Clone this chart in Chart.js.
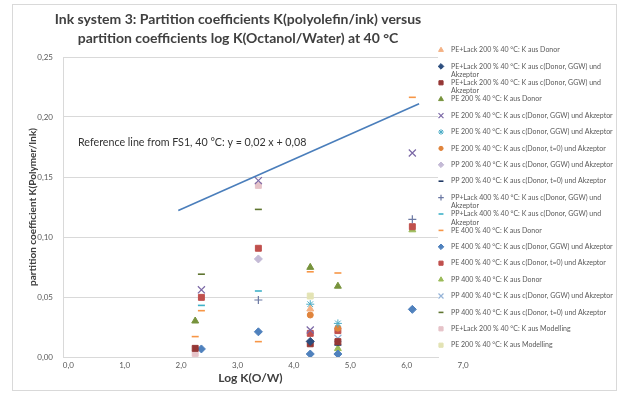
<!DOCTYPE html>
<html>
<head>
<meta charset="utf-8">
<script src="https://cdn.jsdelivr.net/npm/chart.js@4.4.1/dist/chart.umd.min.js"></script>
<style>
  html, body { margin: 0; padding: 0; background: #fff; }
  #wrap { position: relative; width: 624px; height: 396px; }
</style>
</head>
<body>
<div id="wrap"><canvas id="chart" width="624" height="396"></canvas></div>
<script>
// log K(O/W) of the substances (x positions)
const logKow = [2.25, 2.36, 3.37, 4.29, 4.78, 6.1];

// K(Polymer/Ink) per series, one value per substance, null = not measured
const peLack200Donor    = [null, null, null, 0.040, null, null];
const peLack200Ggw      = [null, null, null, 0.013, null, null];
const peLack200Ggw2     = [0.0072, null, null, 0.011, 0.0128, null];
const pe200Donor        = [0.030, null, null, 0.0747, 0.059, null];
const pe200Ggw          = [null, 0.056, 0.147, 0.0225, null, 0.170];
const pe200Ggw2         = [null, null, null, 0.044, 0.028, null];
const pe200T0           = [null, null, null, 0.035, 0.024, null];
const pp200Ggw          = [null, null, 0.0817, null, null, null];
const pp200T0           = [null, null, null, null, 0.010, null];
const ppLack400Ggw      = [null, null, 0.0475, null, null, 0.1147];
const ppLack400Ggw2     = [null, 0.043, 0.055, null, null, null];
const pe400Donor        = [0.017, 0.0386, 0.0128, 0.071, 0.070, 0.2164];
const pe400Ggw          = [null, 0.0067, 0.021, 0.0025, 0.0025, 0.0397];
const pe400T0           = [null, 0.0497, 0.0906, 0.0197, 0.022, 0.1086];
const pp400Donor        = [null, null, null, null, 0.007, 0.106];
const pp400Ggw          = [null, null, null, null, 0.0156, null];
const pp400T0           = [null, 0.069, 0.123, null, null, null];
const peLack200Model    = [0.003, null, 0.143, null, null, null];
const pe200Model        = [null, null, null, 0.0508, null, null];

// reference line FS1 (end points)
const refLineX = [1.95, 6.22];
const refLineY = [0.122, 0.211];

// tick labels
const xTicks = [0, 1, 2, 3, 4, 5, 6, 7];
const yTicks = [0, 0.05, 0.10, 0.15, 0.20, 0.25];

// marker look per point style
const MARKERS = {
    triangle: { radius: 4, border: 1 },
    rectRot:  { radius: 4, border: 1 },
    rect:     { radius: 4.2, border: 1 },
    crossRot: { radius: 5, border: 1.2 },
    cross:    { radius: 4, border: 1.2 },
    star:     { radius: 4, border: 1 },
    circle:   { radius: 3, border: 1 },
    line:     { radius: 3.5, border: 1.6 }
};

const SERIES = [
    { label: 'PE+Lack 200 % 40 °C: K aus Donor', values: peLack200Donor, style: 'triangle', color: '#f4b183' },
    { label: 'PE+Lack 200 % 40 °C: K aus c(Donor, GGW) und Akzeptor', values: peLack200Ggw, style: 'rectRot', color: '#2c4d7e' },
    { label: 'PE+Lack 200 % 40 °C: K aus c(Donor, GGW) und Akzeptor', values: peLack200Ggw2, style: 'rect', color: '#953735' },
    { label: 'PE 200 % 40 °C: K aus Donor', values: pe200Donor, style: 'triangle', color: '#77933c' },
    { label: 'PE 200 % 40 °C: K aus c(Donor, GGW) und Akzeptor', values: pe200Ggw, style: 'crossRot', color: '#7b68a6' },
    { label: 'PE 200 % 40 °C: K aus c(Donor, GGW) und Akzeptor', values: pe200Ggw2, style: 'star', color: '#4bacc6' },
    { label: 'PE 200 % 40 °C: K aus c(Donor, t=0) und Akzeptor', values: pe200T0, style: 'circle', color: '#e0843c' },
    { label: 'PP 200 % 40 °C: K aus c(Donor, GGW) und Akzeptor', values: pp200Ggw, style: 'rectRot', color: '#c4bad6' },
    { label: 'PP 200 % 40 °C: K aus c(Donor, t=0) und Akzeptor', values: pp200T0, style: 'line', color: '#1f3864' },
    { label: 'PP+Lack 400 % 40 °C: K aus c(Donor, GGW) und Akzeptor', values: ppLack400Ggw, style: 'cross', color: '#6b78a3' },
    { label: 'PP+Lack 400 % 40 °C: K aus c(Donor, GGW) und Akzeptor', values: ppLack400Ggw2, style: 'line', color: '#3fb2c8' },
    { label: 'PE 400 % 40 °C: K aus Donor', values: pe400Donor, style: 'line', color: '#f79646' },
    { label: 'PE 400 % 40 °C: K aus c(Donor, GGW) und Akzeptor', values: pe400Ggw, style: 'rectRot', color: '#4f81bd' },
    { label: 'PE 400 % 40 °C: K aus c(Donor, t=0) und Akzeptor', values: pe400T0, style: 'rect', color: '#c0504d' },
    { label: 'PP 400 % 40 °C: K aus Donor', values: pp400Donor, style: 'triangle', color: '#9bbb59' },
    { label: 'PP 400 % 40 °C: K aus c(Donor, GGW) und Akzeptor', values: pp400Ggw, style: 'crossRot', color: '#95b3d7' },
    { label: 'PP 400 % 40 °C: K aus c(Donor, t=0) und Akzeptor', values: pp400T0, style: 'line', color: '#5f7530' },
    { label: 'PE+Lack 200 % 40 °C: K aus Modelling', values: peLack200Model, style: 'rect', color: '#e6c3c8' },
    { label: 'PE 200 % 40 °C: K aus Modelling', values: pe200Model, style: 'rect', color: '#e3e3b4' }
];

const FONT = 'Lato, "Open Sans", sans-serif';
const commaFmt = (v, d) => v.toFixed(d).replace('.', ',');

const datasets = SERIES.map(s => {
    const m = MARKERS[s.style];
    return {
        label: s.label,
        data: logKow.map((x, i) => s.values[i] == null ? null : { x, y: s.values[i] }).filter(Boolean),
        pointStyle: s.style,
        pointRadius: m.radius,
        pointBorderWidth: m.border,
        backgroundColor: s.color,
        borderColor: s.color,
        showLine: false
    };
});

datasets.push({
    label: 'Reference line FS1',
    data: refLineX.map((x, i) => ({ x, y: refLineY[i] })),
    showLine: true,
    borderColor: '#4a7ebb',
    borderWidth: 1.6,
    pointRadius: 0,
    inLegend: false
});

// title, note, legend and outer frame
const decor = {
    id: 'decor',
    beforeDraw(chart) {
        const { ctx } = chart;
        ctx.save();
        ctx.fillStyle = '#fff';
        ctx.fillRect(0, 0, chart.width, chart.height);
        ctx.strokeStyle = '#d9d9d9';
        ctx.lineWidth = 1;
        ctx.strokeRect(12.5, 4.5, 604, 386);
        ctx.restore();
    },
    afterDraw(chart) {
        const { ctx } = chart;
        ctx.save();

        // title
        ctx.fillStyle = '#404040';
        ctx.textAlign = 'center';
        ctx.textBaseline = 'middle';
        ctx.font = 'bold 14px ' + FONT;
        ctx.fillText('Ink system 3: Partition coefficients K(polyolefin/ink) versus', 238, 19);
        ctx.fillText('partition coefficients log K(Octanol/Water) at 40 °C', 238, 38);

        // note on the reference line
        ctx.textAlign = 'left';
        ctx.font = '10.7px ' + FONT;
        ctx.fillStyle = '#333';
        ctx.fillText('Reference line from FS1, 40 °C: y = 0,02 x + 0,08', 78, 143);

        // legend
        ctx.font = '7px ' + FONT;
        let y = 50;
        chart.data.datasets.forEach(ds => {
            if (ds.inLegend === false) return;
            ctx.fillStyle = ds.backgroundColor;
            ctx.strokeStyle = ds.borderColor;
            ctx.lineWidth = ds.pointBorderWidth;
            Chart.helpers.drawPoint(ctx, {
                pointStyle: ds.pointStyle,
                radius: ds.pointRadius * 0.7,
                borderWidth: ds.pointBorderWidth,
                rotation: 0
            }, 441, y);
            ctx.fillStyle = '#595959';
            const lines = wrap(ctx, ds.label, 166);
            lines.forEach((ln, k) => ctx.fillText(ln, 451, y + k * 8.4));
            y += 16.4;
        });
        ctx.restore();
    }
};

function wrap(ctx, text, maxW) {
    const words = text.split(' ');
    const lines = [];
    let cur = '';
    words.forEach(w => {
        const test = cur ? cur + ' ' + w : w;
        if (ctx.measureText(test).width > maxW && cur) {
            lines.push(cur);
            cur = w;
        } else {
            cur = test;
        }
    });
    lines.push(cur);
    return lines;
}

new Chart(document.getElementById('chart'), {
    type: 'scatter',
    data: { datasets },
    options: {
        responsive: false,
        animation: false,
        events: [],
        layout: { padding: { left: 12, right: 186, top: 57, bottom: 6 } },
        plugins: {
            legend: { display: false },
            title: { display: false },
            tooltip: { enabled: false }
        },
        scales: {
            x: {
                type: 'linear',
                min: -0.094,
                max: 6.555,
                afterBuildTicks: s => { s.ticks = xTicks.map(v => ({ value: v })); },
                afterFit: s => { s.height = 33; },
                grid: { display: false, drawTicks: false },
                border: { display: true, color: '#d9d9d9' },
                ticks: {
                    autoSkip: false,
                    maxRotation: 0,
                    padding: 4,
                    color: '#595959',
                    font: { family: FONT, size: 8 },
                    callback: v => commaFmt(v, 1)
                },
                title: {
                    display: true,
                    text: 'Log K(O/W)',
                    color: '#404040',
                    font: { family: FONT, size: 12, weight: 'bold' },
                    padding: { top: 0, bottom: 5 }
                }
            },
            y: {
                min: 0,
                max: 0.25,
                afterBuildTicks: s => { s.ticks = yTicks.map(v => ({ value: v })); },
                afterFit: s => { s.width = 51; },
                grid: { color: '#d9d9d9', drawTicks: false },
                border: { display: true, color: '#d9d9d9' },
                ticks: {
                    padding: 10,
                    color: '#595959',
                    font: { family: FONT, size: 8 },
                    callback: v => commaFmt(v, 2)
                },
                title: {
                    display: true,
                    text: 'partition coefficient K(Polymer/Ink)',
                    color: '#404040',
                    font: { family: FONT, size: 10, weight: 'bold' },
                    padding: { top: 15, bottom: 0 }
                }
            }
        }
    },
    plugins: [decor]
});
</script>
</body>
</html>
